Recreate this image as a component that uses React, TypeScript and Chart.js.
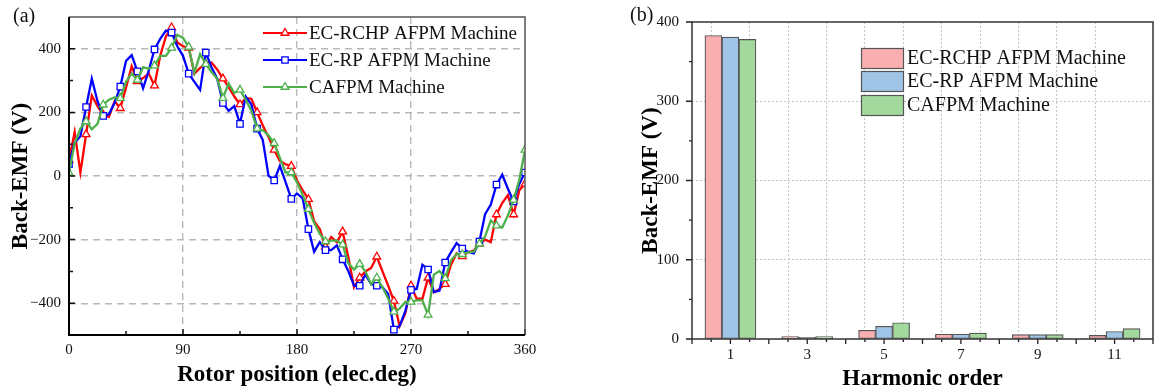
import React, { useEffect, useRef } from 'react';
import { Chart, registerables } from 'chart.js';

Chart.register(...registerables);

const FONT = "'Times New Roman', 'Liberation Serif', serif";

const seriesNames = ['EC-RCHP AFPM Machine', 'EC-RP AFPM Machine', 'CAFPM Machine'];

const rotorAngle = [
  0, 4.5, 9, 13.5, 18, 22.5, 27, 31.5, 36, 40.5,
  45, 49.5, 54, 58.5, 63, 67.5, 72, 76.5, 81, 85.5,
  90, 94.5, 99, 103.5, 108, 112.5, 117, 121.5, 126, 130.5,
  135, 139.5, 144, 148.5, 153, 157.5, 162, 166.5, 171, 175.5,
  180, 184.5, 189, 193.5, 198, 202.5, 207, 211.5, 216, 220.5,
  225, 229.5, 234, 238.5, 243, 247.5, 252, 256.5, 261, 265.5,
  270, 274.5, 279, 283.5, 288, 292.5, 297, 301.5, 306, 310.5,
  315, 319.5, 324, 328.5, 333, 337.5, 342, 346.5, 351, 355.5,
  360,
];

const rchpEmf = [
  50, 138, 11, 131, 253, 220, 192, 186, 235, 213,
  278, 345, 298, 308, 322, 284, 378, 439, 467, 420,
  408, 403, 322, 340, 352, 357, 335, 306, 280, 250,
  225, 245, 243, 200, 159, 123, 82, 47, 37, 31,
  -14, -45, -73, -142, -167, -223, -192, -208, -175, -254,
  -350, -320, -300, -289, -254, -300, -345, -393, -472, -432,
  -345, -386, -386, -320, -366, -355, -340, -280, -243, -253,
  -240, -235, -213, -200, -208, -121, -85, -60, -121, -45,
  -25,
];

const rpEmf = [
  37, 105, 125, 217, 306, 235, 189, 194, 230, 281,
  362, 380, 329, 276, 332, 398, 431, 457, 451, 408,
  378, 322, 296, 271, 388, 342, 306, 230, 205, 220,
  164, 250, 225, 149, 113, 1, -14, 32, -19, -72,
  -55, -70, -167, -238, -208, -233, -233, -218, -262, -299,
  -345, -345, -310, -340, -345, -350, -371, -483, -472, -425,
  -358, -355, -279, -294, -365, -360, -272, -240, -211, -228,
  -238, -243, -206, -120, -90, -27, 4, -40, -80, -25,
  11,
];

const cafpmEmf = [
  10, 103, 149, 172, 147, 164, 224, 240, 247, 245,
  296, 322, 302, 342, 337, 347, 378, 378, 403, 444,
  434, 406, 325, 383, 352, 327, 306, 245, 291, 261,
  271, 240, 205, 149, 144, 128, 103, 57, 11, 11,
  -20, -60, -104, -147, -182, -206, -203, -203, -216, -274,
  -294, -277, -300, -340, -320, -350, -386, -427, -417, -396,
  -396, -391, -391, -437, -310, -299, -322, -266, -245, -246,
  -240, -238, -213, -190, -140, -156, -162, -124, -75, -12,
  82,
];

const angleTicks = [0, 90, 180, 270, 360];
const angleMinorTicks = [45, 135, 225, 315];
const emfTicks = [-400, -200, 0, 200, 400];
const emfMinorTicks = [-300, -100, 100, 300];

const harmonicOrders = [1, 3, 5, 7, 9, 11];
const rchpHarmonics = [383, 3, 11, 6, 5.5, 4.5];
const rpHarmonics = [381, 2, 16, 6, 5.5, 9.5];
const cafpmHarmonics = [378, 3, 20.5, 7.5, 5.5, 13];
const orderTicks = [0, 1, 2, 3, 4, 5, 6, 7, 8, 9, 10, 11, 12];
const orderMinorTicks = [0.5, 1.5, 2.5, 3.5, 4.5, 5.5, 6.5, 7.5, 8.5, 9.5, 10.5, 11.5];
const ampTicks = [0, 100, 200, 300, 400];
const ampMinorTicks = [50, 150, 250, 350];

const lineColors = ['#FF0000', '#0000FF', '#4DB04A'];
const lineMarkers = ['triangle', 'rect', 'triangle'];
const barColors = ['#F9AEB0', '#9FC4E6', '#A3D99C'];

const fmt = (v: number) => (v < 0 ? '\u2212' + Math.abs(v) : String(v));

function markerPath(ctx: CanvasRenderingContext2D, style: string, x: number, y: number, r: number) {
  ctx.beginPath();
  if (style === 'rect') {
    const s = r * Math.SQRT1_2;
    ctx.rect(x - s, y - s, 2 * s, 2 * s);
  } else {
    let rad = 0;
    ctx.moveTo(x + Math.sin(rad) * r, y - Math.cos(rad) * r);
    rad += (2 * Math.PI) / 3;
    ctx.lineTo(x + Math.sin(rad) * r, y - Math.cos(rad) * r);
    rad += (2 * Math.PI) / 3;
    ctx.lineTo(x + Math.sin(rad) * r, y - Math.cos(rad) * r);
    ctx.closePath();
  }
}

function drawTickMarks(chart: any, axis: 'x' | 'y', values: number[], len: number, inward: boolean) {
  const { ctx, chartArea: a } = chart;
  const sc = chart.scales[axis];
  ctx.beginPath();
  values.forEach((v) => {
    const p = sc.getPixelForValue(v);
    if (axis === 'x') {
      ctx.moveTo(p, a.bottom);
      ctx.lineTo(p, inward ? a.bottom - len : a.bottom + len);
    } else {
      ctx.moveTo(a.left, p);
      ctx.lineTo(inward ? a.left + len : a.left - len, p);
    }
  });
  ctx.stroke();
}

const decoA = {
  id: 'decoA',
  afterDatasetsDraw(chart: any) {
    const { ctx, chartArea: a } = chart;
    ctx.save();
    ctx.strokeStyle = '#111';
    ctx.lineWidth = 1.5;
    drawTickMarks(chart, 'x', angleTicks, 6, true);
    drawTickMarks(chart, 'x', angleMinorTicks, 4, true);
    drawTickMarks(chart, 'y', emfTicks, 6, true);
    drawTickMarks(chart, 'y', emfMinorTicks, 4, true);
    ctx.strokeStyle = '#555';
    ctx.lineWidth = 1.5;
    ctx.beginPath();
    ctx.moveTo(a.left, a.top);
    ctx.lineTo(a.right, a.top);
    ctx.lineTo(a.right, a.bottom);
    ctx.stroke();
    ctx.strokeStyle = '#000';
    ctx.lineWidth = 2;
    ctx.beginPath();
    ctx.moveTo(a.left, a.top);
    ctx.lineTo(a.left, a.bottom);
    ctx.lineTo(a.right, a.bottom);
    ctx.stroke();
    ctx.restore();
  },
  afterDraw(chart: any) {
    const { ctx } = chart;
    ctx.save();
    const rows = [33, 60, 87];
    chart.data.datasets.forEach((ds: any, i: number) => {
      const y = rows[i];
      ctx.strokeStyle = ds.borderColor;
      ctx.lineWidth = 2.2;
      ctx.beginPath();
      ctx.moveTo(263, y);
      ctx.lineTo(307, y);
      ctx.stroke();
      markerPath(ctx, ds.pointStyle, 285, y, 4.5);
      ctx.fillStyle = '#fff';
      ctx.fill();
      ctx.lineWidth = 1.3;
      ctx.stroke();
      ctx.fillStyle = '#111';
      ctx.font = `19px ${FONT}`;
      ctx.textBaseline = 'middle';
      ctx.textAlign = 'left';
      ctx.fillText(ds.label, 309, y + 1);
    });
    ctx.font = `20px ${FONT}`;
    ctx.fillStyle = '#111';
    ctx.textBaseline = 'middle';
    ctx.fillText('(a)', 13, 17);
    ctx.restore();
  },
};

const decoB = {
  id: 'decoB',
  afterDatasetsDraw(chart: any) {
    const { ctx, chartArea: a } = chart;
    ctx.save();
    ctx.strokeStyle = '#222';
    ctx.lineWidth = 1.3;
    drawTickMarks(chart, 'x', orderTicks, 5, false);
    drawTickMarks(chart, 'x', orderMinorTicks, 3, false);
    drawTickMarks(chart, 'y', ampTicks, 6, false);
    drawTickMarks(chart, 'y', ampMinorTicks, 3, false);
    ctx.strokeStyle = '#333';
    ctx.lineWidth = 1.5;
    ctx.beginPath();
    ctx.moveTo(a.right, a.bottom);
    ctx.lineTo(a.left, a.bottom);
    ctx.lineTo(a.left, a.top);
    ctx.lineTo(a.right, a.top);
    ctx.lineTo(a.right, a.bottom);
    ctx.stroke();
    ctx.restore();
  },
  afterDraw(chart: any) {
    const { ctx } = chart;
    ctx.save();
    const tops = [48, 71, 95];
    chart.data.datasets.forEach((ds: any, i: number) => {
      const y = tops[i];
      ctx.fillStyle = ds.backgroundColor;
      ctx.fillRect(301, y, 42, 20);
      ctx.strokeStyle = '#555';
      ctx.lineWidth = 1.2;
      ctx.strokeRect(301.5, y + 0.5, 42, 20);
      ctx.fillStyle = '#111';
      ctx.font = `20px ${FONT}`;
      ctx.textBaseline = 'middle';
      ctx.textAlign = 'left';
      ctx.fillText(ds.label, 347, y + 11);
    });
    ctx.font = `20px ${FONT}`;
    ctx.fillStyle = '#111';
    ctx.textBaseline = 'middle';
    ctx.fillText('(b)', 70, 16);
    ctx.restore();
  },
};

const tickFont = { family: FONT, size: 15 };
const titleFont = { family: FONT, size: 23, weight: 'bold' as const };

function makeLineConfig(): any {
  const series = [rchpEmf, rpEmf, cafpmEmf];
  return {
    type: 'line',
    data: {
      datasets: series.map((vals, i) => ({
        label: seriesNames[i],
        data: rotorAngle.map((x, k) => ({ x, y: vals[k] })),
        borderColor: lineColors[i],
        borderWidth: 2.3,
        pointStyle: lineMarkers[i],
        pointRadius: (c: any) => (c.dataIndex % 3 === 0 || c.dataIndex === rotorAngle.length - 1 ? 4.5 : 0),
        pointBackgroundColor: '#fff',
        pointBorderColor: lineColors[i],
        pointBorderWidth: 1.3,
        tension: 0,
        fill: false,
        order: 3 - i,
      })),
    },
    options: {
      animation: false,
      responsive: false,
      devicePixelRatio: 1,
      layout: { padding: { left: 0, right: 35, top: 8, bottom: 0 } },
      plugins: { legend: { display: false }, tooltip: { enabled: false } },
      scales: {
        x: {
          type: 'linear',
          min: 0,
          max: 360,
          afterBuildTicks: (s: any) => {
            s.ticks = angleTicks.map((v) => ({ value: v }));
          },
          afterFit: (s: any) => {
            s.height = 55;
          },
          ticks: { padding: 6, font: tickFont, color: '#111', maxRotation: 0, autoSkip: false, callback: (v: any) => fmt(Number(v)) },
          grid: {
            color: (c: any) => (c.tick && (c.tick.value === 0 || c.tick.value === 360) ? 'rgba(0,0,0,0)' : '#b8b8b8'),
            lineWidth: 1.4,
            drawTicks: false,
          },
          border: { display: false, dash: [7, 5] },
          title: { display: true, text: 'Rotor position (elec.deg)', font: titleFont, color: '#000', padding: { top: 0, bottom: 1 } },
        },
        y: {
          min: -500,
          max: 500,
          afterBuildTicks: (s: any) => {
            s.ticks = emfTicks.map((v) => ({ value: v }));
          },
          afterFit: (s: any) => {
            s.width = 69;
          },
          ticks: { padding: 8, font: tickFont, color: '#111', autoSkip: false, callback: (v: any) => fmt(Number(v)) },
          grid: { color: '#b8b8b8', lineWidth: 1.4, drawTicks: false },
          border: { display: false, dash: [7, 5] },
          title: { display: true, text: 'Back-EMF (V)', font: titleFont, color: '#000', padding: { top: 7, bottom: 0 } },
        },
      },
    },
    plugins: [decoA],
  };
}

function makeBarConfig(): any {
  const series = [rchpHarmonics, rpHarmonics, cafpmHarmonics];
  return {
    type: 'bar',
    data: {
      datasets: series.map((vals, i) => ({
        label: seriesNames[i],
        data: harmonicOrders.map((x, k) => ({ x, y: vals[k] })),
        backgroundColor: barColors[i],
        borderColor: '#555',
        borderWidth: 1.2,
        borderSkipped: false,
        barThickness: 17,
      })),
    },
    options: {
      animation: false,
      responsive: false,
      devicePixelRatio: 1,
      layout: { padding: { left: 0, right: 4, top: 9, bottom: 0 } },
      plugins: { legend: { display: false }, tooltip: { enabled: false } },
      scales: {
        x: {
          type: 'linear',
          min: 0,
          max: 12,
          offset: false,
          afterBuildTicks: (s: any) => {
            s.ticks = orderTicks.map((v) => ({ value: v }));
          },
          afterFit: (s: any) => {
            s.height = 51;
          },
          ticks: {
            padding: 7,
            font: tickFont,
            color: '#111',
            maxRotation: 0,
            autoSkip: false,
            callback: (v: any) => (harmonicOrders.includes(Number(v)) ? String(v) : ''),
          },
          grid: {
            color: (c: any) => (c.tick && (c.tick.value === 0 || c.tick.value === 12) ? 'rgba(0,0,0,0)' : '#c4c4c4'),
            lineWidth: 1,
            drawTicks: false,
          },
          border: { display: false, dash: [2, 2] },
          title: { display: true, text: 'Harmonic order', font: titleFont, color: '#000', padding: { top: 0, bottom: -3 } },
        },
        y: {
          min: 0,
          max: 400,
          afterBuildTicks: (s: any) => {
            s.ticks = ampTicks.map((v) => ({ value: v }));
          },
          afterFit: (s: any) => {
            s.width = 132;
          },
          ticks: { padding: 13, font: tickFont, color: '#111', autoSkip: false },
          grid: {
            color: (c: any) => (c.tick && (c.tick.value === 0 || c.tick.value === 400) ? 'rgba(0,0,0,0)' : '#c4c4c4'),
            lineWidth: 1,
            drawTicks: false,
          },
          border: { display: false, dash: [2, 2] },
          title: { display: true, text: 'Back-EMF (V)', font: titleFont, color: '#000', padding: { top: 77, bottom: 0 } },
        },
      },
    },
    plugins: [decoB],
  };
}

export default function App() {
  const refA = useRef<HTMLCanvasElement>(null);
  const refB = useRef<HTMLCanvasElement>(null);

  useEffect(() => {
    const a = new Chart(refA.current as HTMLCanvasElement, makeLineConfig());
    const b = new Chart(refB.current as HTMLCanvasElement, makeBarConfig());
    return () => {
      a.destroy();
      b.destroy();
    };
  }, []);

  return (
    <div
      style={{
        position: 'fixed',
        left: 0,
        top: 0,
        width: 1154,
        height: 390,
        overflow: 'hidden',
        background: '#fff',
      }}
    >
      <canvas ref={refA} width={560} height={390} style={{ position: 'absolute', left: 0, top: 0 }} />
      <canvas ref={refB} width={600} height={390} style={{ position: 'absolute', left: 560, top: 0 }} />
    </div>
  );
}
